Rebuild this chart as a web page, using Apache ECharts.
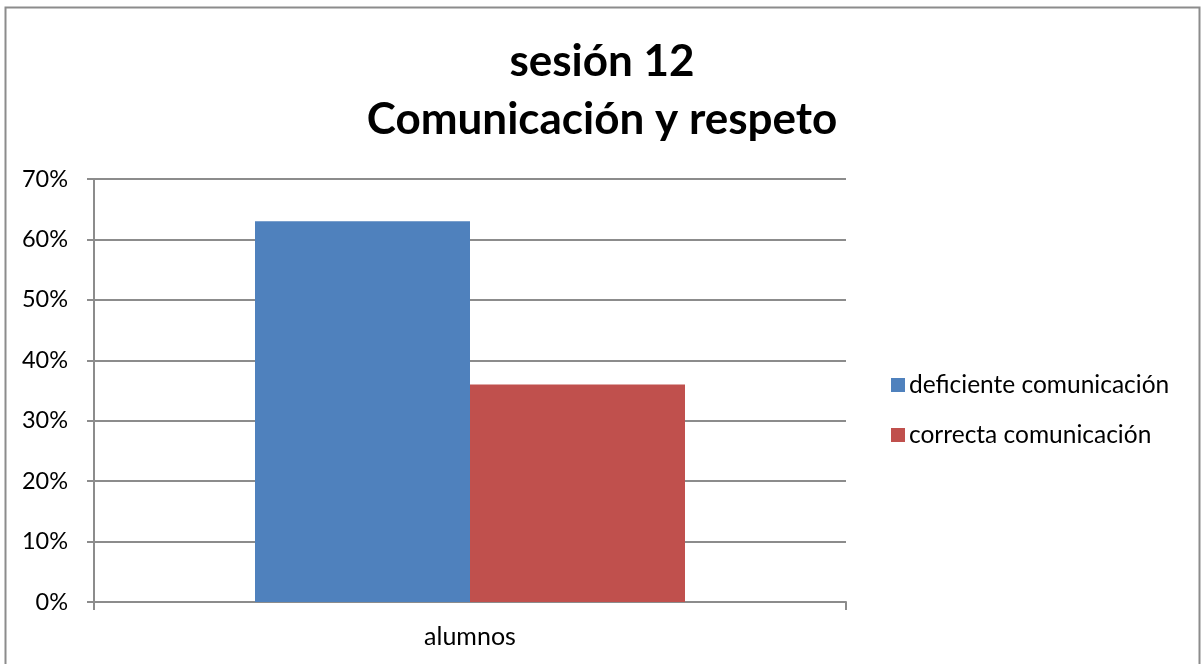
<!DOCTYPE html>
<html><head><meta charset="utf-8">
<script src="https://cdn.jsdelivr.net/npm/echarts@6/dist/echarts.min.js"></script>
<style>html,body{margin:0;padding:0;background:#fff}#c{width:1204px;height:664px}</style>
</head><body><div id="c"></div>
<script>
const categories = ['alumnos'];
const seriesNames = ['deficiente comunicación', 'correcta comunicación'];
const deficiente = [0.63];
const correcta = [0.36];
const titleLines = ['sesión 12', 'Comunicación y respeto'];

const FONT = 'Lato, "Open Sans", sans-serif';
const chart = echarts.init(document.getElementById('c'), null, {renderer: 'canvas'});
chart.setOption({
  animation: false,
  backgroundColor: '#fff',
  graphic: [{
    type: 'rect', silent: true,
    shape: {x: 5.5, y: 7.5, width: 1194, height: 700},
    style: {fill: 'none', stroke: '#8c8c8c', lineWidth: 2}
  }],
  title: {
    text: titleLines.join('\n'),
    left: 'center', top: 28,
    textStyle: {fontFamily: FONT, fontWeight: 'bold', fontSize: 44, color: '#000', lineHeight: 58}
  },
  legend: {
    orient: 'vertical', left: 886, top: 367, itemGap: 24,
    itemWidth: 14, itemHeight: 14, icon: 'rect',
    textStyle: {fontFamily: FONT, fontSize: 24.5, color: '#000', lineHeight: 26, padding: [0,0,0,-1]},
    data: seriesNames
  },
  grid: {left: 94, right: 358, top: 179, bottom: 62, containLabel: false},
  xAxis: {
    type: 'category', data: categories,
    axisLine: {lineStyle: {color: '#8c8c8c', width: 2}},
    axisTick: {show: true, length: 8, alignWithLabel: false, lineStyle: {color: '#8c8c8c', width: 2}},
    axisLabel: {fontFamily: FONT, fontSize: 25, color: '#000', margin: 22}
  },
  yAxis: {
    type: 'value', min: 0, max: 0.7, interval: 0.1,
    axisLine: {show: true, lineStyle: {color: '#8c8c8c', width: 2}},
    axisTick: {show: true, length: 7, inside: false, lineStyle: {color: '#8c8c8c', width: 2}},
    splitLine: {lineStyle: {color: '#8c8c8c', width: 2}},
    axisLabel: {fontFamily: FONT, fontSize: 23.5, color: '#000', margin: 26,
      formatter: v => Math.round(v * 100) + '%'}
  },
  series: [
    {name: seriesNames[0], type: 'bar', data: deficiente, barWidth: 215, barGap: '0%',
     itemStyle: {color: '#4f81bd'}},
    {name: seriesNames[1], type: 'bar', data: correcta, barWidth: 215, barGap: '0%',
     itemStyle: {color: '#c0504d'}}
  ]
});
</script></body></html>
